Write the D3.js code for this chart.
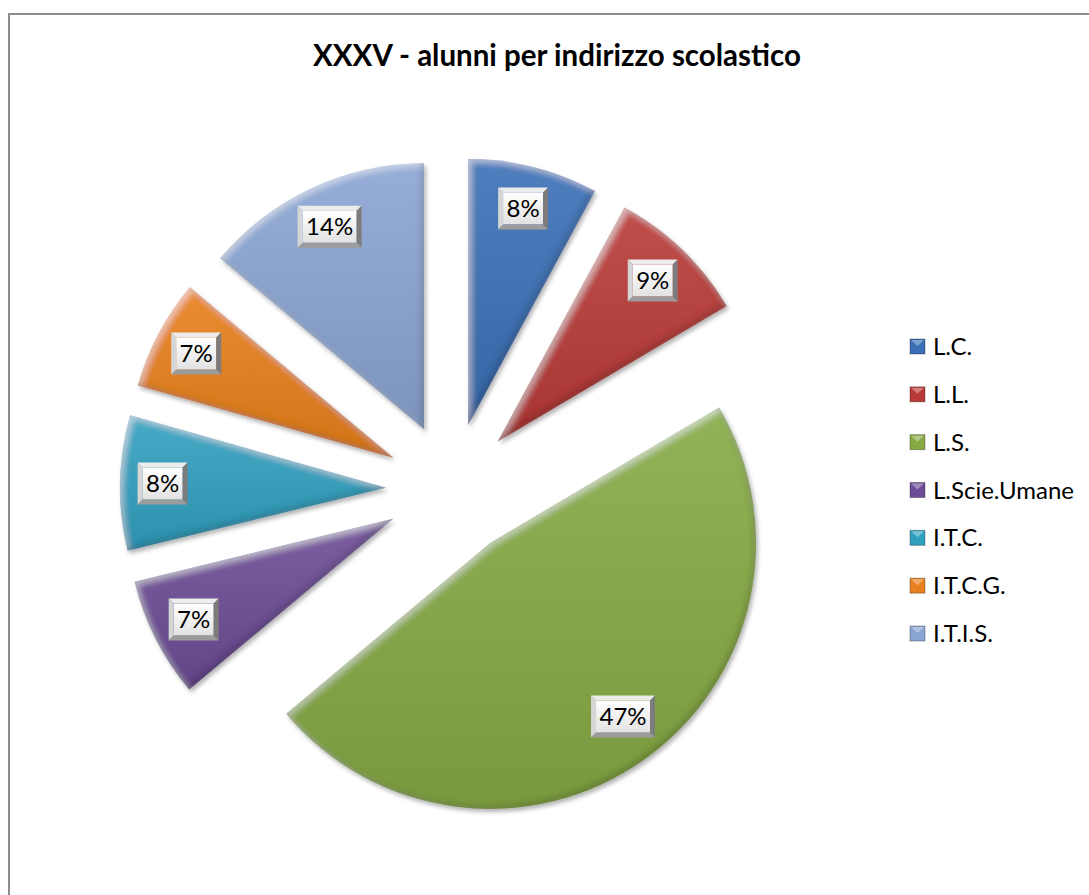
<!DOCTYPE html>
<html>
<head>
<meta charset="utf-8">
<script src="https://cdn.jsdelivr.net/npm/d3@7"></script>
<style>
  body { margin: 0; background: #fff; }
  text { font-family: Lato, "Open Sans", sans-serif; }
</style>
</head>
<body>
<script>
// data (shares in %)
var categories = ['L.C.', 'L.L.', 'L.S.', 'L.Scie.Umane', 'I.T.C.', 'I.T.C.G.', 'I.T.I.S.'];
var values = [7.9, 8.6, 47.4, 7.3, 8.2, 6.7, 13.9];
var colors = ['#3b6fb6', '#b93b37', '#87aa44', '#6d4e96', '#30a0c0', '#e8801f', '#8aa5d3'];
var title = 'XXXV - alunni per indirizzo scolastico';

var W = 1089, H = 895;
var cx = 452, cy = 489, r = 266, explode = 66;

var svg = d3.select('body').append('svg')
    .attr('width', W)
    .attr('height', H);

var defs = svg.append('defs');

// bevel + shadow look of the slices
var f = defs.append('filter').attr('id', 'bevel')
    .attr('x', '-10%').attr('y', '-10%').attr('width', '125%').attr('height', '125%');
f.append('feGaussianBlur').attr('in', 'SourceAlpha').attr('stdDeviation', 3).attr('result', 'b');
f.append('feOffset').attr('in', 'b').attr('dx', 3).attr('dy', 3).attr('result', 'bo');
f.append('feComposite').attr('in', 'SourceAlpha').attr('in2', 'bo').attr('operator', 'out').attr('result', 'hi');
f.append('feFlood').attr('flood-color', '#fff').attr('flood-opacity', 0.45);
f.append('feComposite').attr('in2', 'hi').attr('operator', 'in').attr('result', 'hiC');
f.append('feOffset').attr('in', 'b').attr('dx', -3).attr('dy', -3).attr('result', 'bo2');
f.append('feComposite').attr('in', 'SourceAlpha').attr('in2', 'bo2').attr('operator', 'out').attr('result', 'sh');
f.append('feFlood').attr('flood-color', '#000').attr('flood-opacity', 0.35);
f.append('feComposite').attr('in2', 'sh').attr('operator', 'in').attr('result', 'shC');
f.append('feGaussianBlur').attr('in', 'SourceAlpha').attr('stdDeviation', 2).attr('result', 'ds0');
f.append('feOffset').attr('in', 'ds0').attr('dx', 2).attr('dy', 3).attr('result', 'ds1');
f.append('feFlood').attr('flood-color', '#000').attr('flood-opacity', 0.3);
f.append('feComposite').attr('in2', 'ds1').attr('operator', 'in').attr('result', 'ds');
var m = f.append('feMerge');
['ds', 'SourceGraphic', 'hiC', 'shC'].forEach(function(n) { m.append('feMergeNode').attr('in', n); });

// soft light to dark gradient on top of each slice
var g = defs.append('linearGradient').attr('id', 'shade')
    .attr('x1', 0).attr('y1', 0).attr('x2', 0).attr('y2', 1);
g.append('stop').attr('offset', '0%').attr('stop-color', '#fff').attr('stop-opacity', 0.1);
g.append('stop').attr('offset', '100%').attr('stop-color', '#000').attr('stop-opacity', 0.1);

var gb = defs.append('linearGradient').attr('id', 'boxfill')
    .attr('x1', 0).attr('y1', 0).attr('x2', 0).attr('y2', 1);
gb.append('stop').attr('offset', '0%').attr('stop-color', '#ffffff');
gb.append('stop').attr('offset', '100%').attr('stop-color', '#e2e2e2');

// frame
svg.append('path')
    .attr('d', 'M9,' + H + 'V14H' + W)
    .attr('fill', 'none')
    .attr('stroke', '#8c8c8c')
    .attr('stroke-width', 2);

svg.append('text')
    .attr('x', 557).attr('y', 66)
    .attr('text-anchor', 'middle')
    .style('font-size', '29.5px')
    .style('font-weight', 'bold')
    .text(title);

var data = categories.map(function(c, i) { return { name: c, value: values[i], color: colors[i] }; });

var pie = d3.pie().sort(null).value(function(d) { return d.value; });
var arc = d3.arc().innerRadius(0).outerRadius(r);
var arcs = pie(data);
var total = d3.sum(values);

var group = svg.append('g').attr('transform', 'translate(' + cx + ',' + cy + ')');

var slice = group.selectAll('g.slice').data(arcs).enter().append('g')
    .attr('class', 'slice')
    .attr('transform', function(d) {
        var a = (d.startAngle + d.endAngle) / 2;
        return 'translate(' + (explode * Math.sin(a)) + ',' + (-explode * Math.cos(a)) + ')';
    });

slice.append('path')
    .attr('d', arc)
    .attr('fill', function(d) { return d.data.color; })
    .attr('filter', 'url(#bevel)');
slice.append('path')
    .attr('d', arc)
    .attr('fill', 'url(#shade)');

// data labels in bevelled boxes
var lab = slice.append('g')
    .attr('transform', function(d) {
        var a = (d.startAngle + d.endAngle) / 2;
        var k = d.value / total > 0.3 ? 0.8 : 0.84;
        return 'translate(' + (k * r * Math.sin(a) + (k < 0.84 ? 10 : 0)) + ',' + (-k * r * Math.cos(a)) + ')';
    });

lab.each(function(d) {
    var el = d3.select(this);
    var txt = Math.round(d.value / total * 100) + '%';
    var w = txt.length === 2 ? 50 : 64, h = 42, b = 5;
    var x0 = -w / 2, y0 = -h / 2, x1 = w / 2, y1 = h / 2;
    var faces = [
        { p: [[x0, y0], [x1, y0], [x1 - b, y0 + b], [x0 + b, y0 + b]], c: '#ececec' },
        { p: [[x0, y0], [x0 + b, y0 + b], [x0 + b, y1 - b], [x0, y1]], c: '#d6d6d6' },
        { p: [[x1, y0], [x1, y1], [x1 - b, y1 - b], [x1 - b, y0 + b]], c: '#7c7c7c' },
        { p: [[x0, y1], [x0 + b, y1 - b], [x1 - b, y1 - b], [x1, y1]], c: '#9c9c9c' }
    ];
    el.append('rect').attr('x', x0 + b).attr('y', y0 + b)
        .attr('width', w - 2 * b).attr('height', h - 2 * b)
        .attr('fill', 'url(#boxfill)');
    el.selectAll('polygon').data(faces).enter().append('polygon')
        .attr('points', function(q) { return q.p.map(function(p) { return p.join(','); }).join(' '); })
        .attr('fill', function(q) { return q.c; });
    el.append('text')
        .attr('text-anchor', 'middle')
        .attr('y', 8.5)
        .style('font-size', '24px')
        .attr('fill', '#000')
        .text(txt);
});

// legend
var ly = d3.scalePoint().domain(categories).range([347, 634]);
var leg = svg.selectAll('g.leg').data(data).enter().append('g')
    .attr('class', 'leg')
    .attr('transform', function(d) { return 'translate(910,' + ly(d.name) + ')'; });
leg.append('rect')
    .attr('x', 0).attr('y', -8).attr('width', 15).attr('height', 15)
    .attr('fill', function(d) { return d.color; });
leg.append('path')
    .attr('d', 'M1,-7H14L7.5,-1Z')
    .attr('fill', '#fff').attr('opacity', 0.35);
leg.append('rect')
    .attr('x', 0).attr('y', -8).attr('width', 15).attr('height', 15)
    .attr('fill', 'none').attr('stroke', '#000').attr('stroke-opacity', 0.3);
leg.append('text')
    .attr('x', 23).attr('y', 8)
    .style('font-size', '24px')
    .text(function(d) { return d.name; });
</script>
</body>
</html>
